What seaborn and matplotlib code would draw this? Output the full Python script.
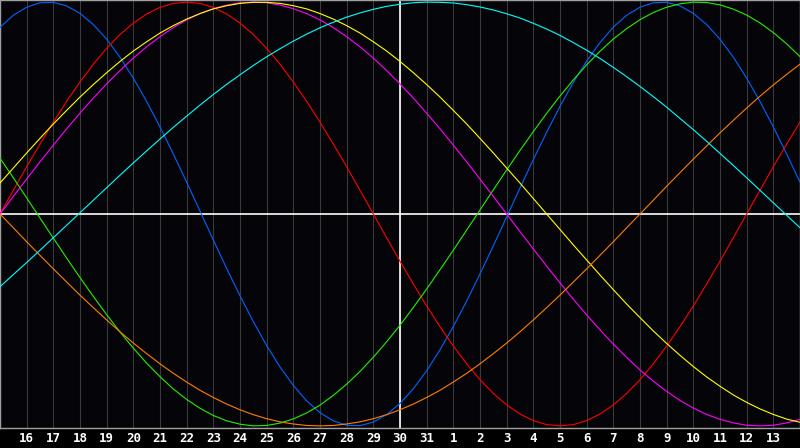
import matplotlib
matplotlib.use('Agg')
import matplotlib.pyplot as plt
import pandas as pd
import seaborn as sns

# Positions on the x axis, in half-day steps (0 = the 15th, 30 = the 14th of next month)
days = [i / 2 for i in range(61)]
tick_labels = [str(d) for d in range(16, 32)] + [str(d) for d in range(1, 14)]
today_pos = 15  # the 30th

# Values every half day (-1 .. 1)
blue = [0.881, 0.938, 0.976, 0.997, 0.999, 0.982, 0.947, 0.894, 0.825, 0.740,
        0.641, 0.531, 0.411, 0.283, 0.150, 0.014, -0.123, -0.257, -0.386,
        -0.508, -0.621, -0.722, -0.809, -0.882, -0.938, -0.976, -0.997, -0.999,
        -0.982, -0.947, -0.894, -0.825, -0.740, -0.641, -0.531, -0.411, -0.283,
        -0.150, -0.014, 0.123, 0.257, 0.386, 0.508, 0.621, 0.722, 0.809, 0.882,
        0.938, 0.976, 0.997, 0.999, 0.982, 0.947, 0.894, 0.825, 0.740, 0.641,
        0.531, 0.411, 0.283, 0.150]
red = [0.000, 0.112, 0.223, 0.330, 0.434, 0.532, 0.623, 0.707, 0.782, 0.847,
       0.901, 0.944, 0.975, 0.994, 1.000, 0.994, 0.975, 0.944, 0.901, 0.847,
       0.782, 0.707, 0.623, 0.532, 0.434, 0.330, 0.223, 0.112, 0.000, -0.112,
       -0.223, -0.330, -0.434, -0.532, -0.623, -0.707, -0.782, -0.847, -0.901,
       -0.944, -0.975, -0.994, -1.000, -0.994, -0.975, -0.944, -0.901, -0.847,
       -0.782, -0.707, -0.623, -0.532, -0.434, -0.330, -0.223, -0.112, 0.000,
       0.112, 0.223, 0.330, 0.434]
green = [0.263, 0.171, 0.076, -0.019, -0.114, -0.208, -0.300, -0.389, -0.475,
         -0.557, -0.633, -0.704, -0.768, -0.826, -0.875, -0.917, -0.951, -0.976,
         -0.992, -1.000, -0.998, -0.987, -0.967, -0.939, -0.902, -0.856, -0.803,
         -0.743, -0.676, -0.603, -0.525, -0.441, -0.354, -0.263, -0.171, -0.076,
         0.019, 0.114, 0.208, 0.300, 0.389, 0.475, 0.557, 0.633, 0.704, 0.768,
         0.826, 0.875, 0.917, 0.951, 0.976, 0.992, 1.000, 0.998, 0.987, 0.967,
         0.939, 0.902, 0.856, 0.803, 0.743]
magenta = [0.000, 0.083, 0.165, 0.246, 0.325, 0.402, 0.476, 0.547, 0.614, 0.677,
           0.736, 0.789, 0.837, 0.880, 0.916, 0.946, 0.969, 0.986, 0.997, 1.000,
           0.997, 0.986, 0.969, 0.946, 0.916, 0.880, 0.837, 0.789, 0.736, 0.677,
           0.614, 0.547, 0.476, 0.402, 0.325, 0.246, 0.165, 0.083, 0.000, -0.083,
           -0.165, -0.246, -0.325, -0.402, -0.476, -0.547, -0.614, -0.677,
           -0.736, -0.789, -0.837, -0.880, -0.916, -0.946, -0.969, -0.986,
           -0.997, -1.000, -0.997, -0.986, -0.969]
yellow = [0.146, 0.217, 0.288, 0.357, 0.425, 0.489, 0.552, 0.611, 0.667, 0.720,
          0.769, 0.813, 0.854, 0.889, 0.920, 0.946, 0.968, 0.983, 0.994, 0.999,
          0.999, 0.994, 0.983, 0.968, 0.946, 0.920, 0.889, 0.854, 0.813, 0.769,
          0.720, 0.667, 0.611, 0.552, 0.489, 0.425, 0.357, 0.288, 0.217, 0.146,
          0.073, 0.000, -0.073, -0.146, -0.217, -0.288, -0.357, -0.425, -0.489,
          -0.552, -0.611, -0.667, -0.720, -0.769, -0.813, -0.854, -0.889,
          -0.920, -0.946, -0.968, -0.983]
orange = [0.000, -0.065, -0.131, -0.195, -0.259, -0.321, -0.383, -0.442, -0.500,
          -0.556, -0.609, -0.659, -0.707, -0.752, -0.793, -0.832, -0.866,
          -0.897, -0.924, -0.947, -0.966, -0.981, -0.991, -0.998, -1.000,
          -0.998, -0.991, -0.981, -0.966, -0.947, -0.924, -0.897, -0.866,
          -0.832, -0.793, -0.752, -0.707, -0.659, -0.609, -0.556, -0.500,
          -0.442, -0.383, -0.321, -0.259, -0.195, -0.131, -0.065, 0.000, 0.065,
          0.131, 0.195, 0.259, 0.321, 0.383, 0.442, 0.500, 0.556, 0.609, 0.659,
          0.707]
cyan = [-0.343, -0.286, -0.229, -0.171, -0.112, -0.053, 0.006, 0.065, 0.124,
        0.183, 0.241, 0.298, 0.354, 0.409, 0.462, 0.514, 0.564, 0.612, 0.657,
        0.701, 0.742, 0.780, 0.816, 0.849, 0.879, 0.905, 0.929, 0.949, 0.966,
        0.980, 0.990, 0.997, 1.000, 0.999, 0.996, 0.988, 0.977, 0.963, 0.945,
        0.925, 0.900, 0.873, 0.843, 0.809, 0.773, 0.734, 0.692, 0.648, 0.602,
        0.554, 0.504, 0.451, 0.398, 0.343, 0.286, 0.229, 0.171, 0.112, 0.053,
        -0.006, -0.065]

series = {'blue': blue, 'red': red, 'green': green, 'magenta': magenta,
          'yellow': yellow, 'orange': orange, 'cyan': cyan}
palette = {'blue': '#0064ff', 'red': '#ff0000', 'green': '#22f000',
           'magenta': '#ff00ff', 'yellow': '#ffff00', 'orange': '#ff7d00',
           'cyan': '#00ffff'}

df = pd.concat([pd.DataFrame({'day': days, 'value': v, 'cycle': k})
                for k, v in series.items()], ignore_index=True)

fig = plt.figure(figsize=(8, 4.48), dpi=100, facecolor='black')
ax = fig.add_axes([0, 20 / 448, 1, 428 / 448])
ax.set_facecolor('#050509')

# day grid
for d in range(1, 30):
    ax.axvline(d, color='#3a3a3a', lw=0.8, zorder=1)
ax.axhline(0, color='white', lw=1.2, zorder=2)
ax.axvline(today_pos, color='white', lw=1.2, zorder=2)

sns.lineplot(data=df, x='day', y='value', hue='cycle', palette=palette,
             hue_order=list(series.keys()), legend=False, lw=0.8, ax=ax,
             zorder=3)

ax.set_xlim(0, 30)
ax.set_ylim(-1.01, 1.01)
ax.set_xticks(range(1, 30))
ax.set_xticklabels(tick_labels, color='white', fontsize=9, fontweight='bold',
                   family='DejaVu Sans Mono')
ax.tick_params(axis='x', length=0, pad=3)
ax.set_yticks([])
ax.set_xlabel('')
ax.set_ylabel('')
for s in ax.spines.values():
    s.set_color('#a0a0a0')
    s.set_linewidth(1)

fig.savefig('out.png', dpi=100, facecolor='black')
